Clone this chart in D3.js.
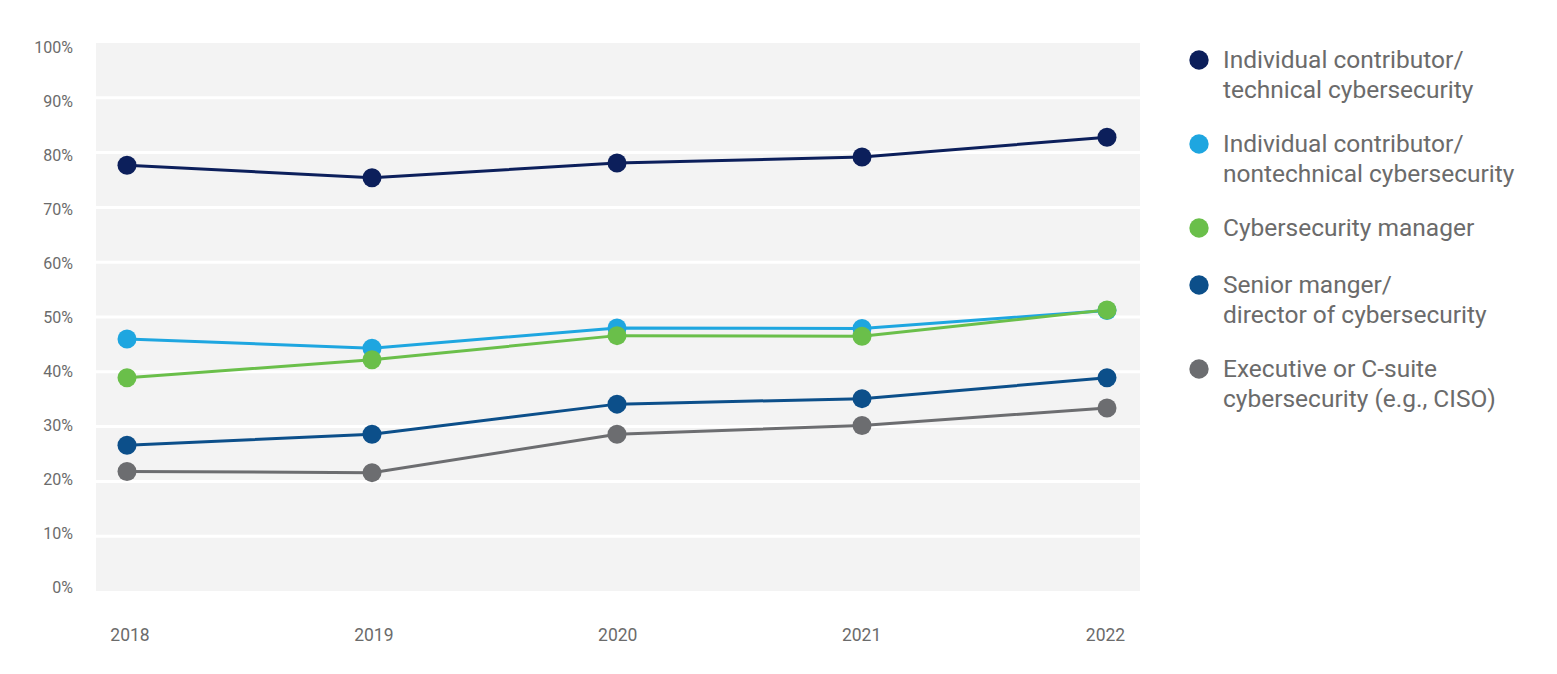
<!DOCTYPE html>
<html>
<head>
<meta charset="utf-8">
<script src="https://cdn.jsdelivr.net/npm/d3@7"></script>
<style>
  html, body { margin: 0; padding: 0; background: #ffffff; }
  svg { display: block; font-family: Roboto, "Noto Sans", sans-serif; }
</style>
</head>
<body>
<svg id="chart" width="1557" height="674"></svg>
<script>
// ---- data ----
const years = ["2018", "2019", "2020", "2021", "2022"];
const yTicks = [0, 10, 20, 30, 40, 50, 60, 70, 80, 90, 100];
const seriesNames = [
  ["Individual contributor/", "technical cybersecurity"],
  ["Individual contributor/", "nontechnical cybersecurity"],
  ["Cybersecurity manager"],
  ["Senior manger/", "director of cybersecurity"],
  ["Executive or C-suite", "cybersecurity (e.g., CISO)"]
];
const technicalIC    = [77.7, 75.4, 78.1, 79.2, 82.8];
const nontechnicalIC = [46.0, 44.3, 48.0, 47.9, 51.2];
const manager        = [38.9, 42.2, 46.6, 46.5, 51.3];
const seniorManager  = [26.6, 28.6, 34.1, 35.1, 38.9];
const executive      = [21.8, 21.6, 28.6, 30.2, 33.4];
const seriesColors = ["#0c1f5b", "#1ea6e0", "#6abf4a", "#0c4f8a", "#6c6d70"];

const allSeries = [technicalIC, nontechnicalIC, manager, seniorManager, executive];

// ---- layout ----
const svg = d3.select("#chart");
const plot = { left: 96, right: 1140, top: 43, bottom: 591 };
const textColor = "#6b6b6b";

const x = d3.scalePoint().domain(years).range([127, 1107]);
const xLabel = d3.scalePoint().domain(years).range([129.5, 1105]);
const y = d3.scaleLinear().domain([0, 100]).range([plot.bottom, plot.top]);
const yLabel = y.copy().range([587, 47.5]);

// background
svg.append("rect")
  .attr("x", plot.left).attr("y", plot.top)
  .attr("width", plot.right - plot.left).attr("height", plot.bottom - plot.top)
  .attr("fill", "#f3f3f3");

// gridlines
svg.append("g").selectAll("line")
  .data(yTicks.filter(t => t > 0 && t < 100))
  .join("line")
  .attr("x1", plot.left).attr("x2", plot.right)
  .attr("y1", d => y(d)).attr("y2", d => y(d))
  .attr("stroke", "#ffffff").attr("stroke-width", 3);

// y axis labels
const yAxis = d3.axisLeft(yLabel).tickValues(yTicks).tickFormat(d => d + "%").tickSize(0).tickPadding(0);
const gy = svg.append("g").attr("transform", "translate(73,0)").call(yAxis);
gy.select(".domain").remove();
gy.selectAll("text").attr("fill", textColor).style("font-size", "16px")
  .style("font-family", "Roboto, sans-serif");

// x axis labels
const xAxis = d3.axisBottom(xLabel).tickSize(0).tickPadding(0);
const gx = svg.append("g").attr("transform", "translate(0,629)").call(xAxis);
gx.select(".domain").remove();
gx.selectAll("text").attr("fill", textColor).style("font-size", "17.5px")
  .style("font-family", "Roboto, sans-serif");

// lines
const line = d3.line().x((d, i) => x(years[i])).y(d => y(d));
svg.append("g").selectAll("path")
  .data(allSeries)
  .join("path")
  .attr("d", d => line(d))
  .attr("fill", "none")
  .attr("stroke", (d, i) => seriesColors[i])
  .attr("stroke-width", 3);

// dots
allSeries.forEach((s, si) => {
  svg.append("g").selectAll("circle")
    .data(s)
    .join("circle")
    .attr("cx", (d, i) => x(years[i]))
    .attr("cy", d => y(d))
    .attr("r", 9.5)
    .attr("fill", seriesColors[si]);
});

// legend
const legendX = 1199;
const lineH = 29.5;
let ly = 60;
const legend = svg.append("g");
seriesNames.forEach((lines, i) => {
  const g = legend.append("g").attr("transform", `translate(${legendX},${ly})`);
  g.append("circle").attr("r", 9.7).attr("fill", seriesColors[i]);
  const t = g.append("text")
    .attr("x", 24).attr("y", 0)
    .attr("fill", textColor)
    .style("font-size", "24.5px")
    .style("font-family", "Roboto, sans-serif");
  lines.forEach((l, j) => {
    t.append("tspan").attr("x", 24).attr("y", 8 + j * lineH).text(l);
  });
  ly += lines.length === 2 ? 84 : 57;
});
</script>
</body>
</html>
